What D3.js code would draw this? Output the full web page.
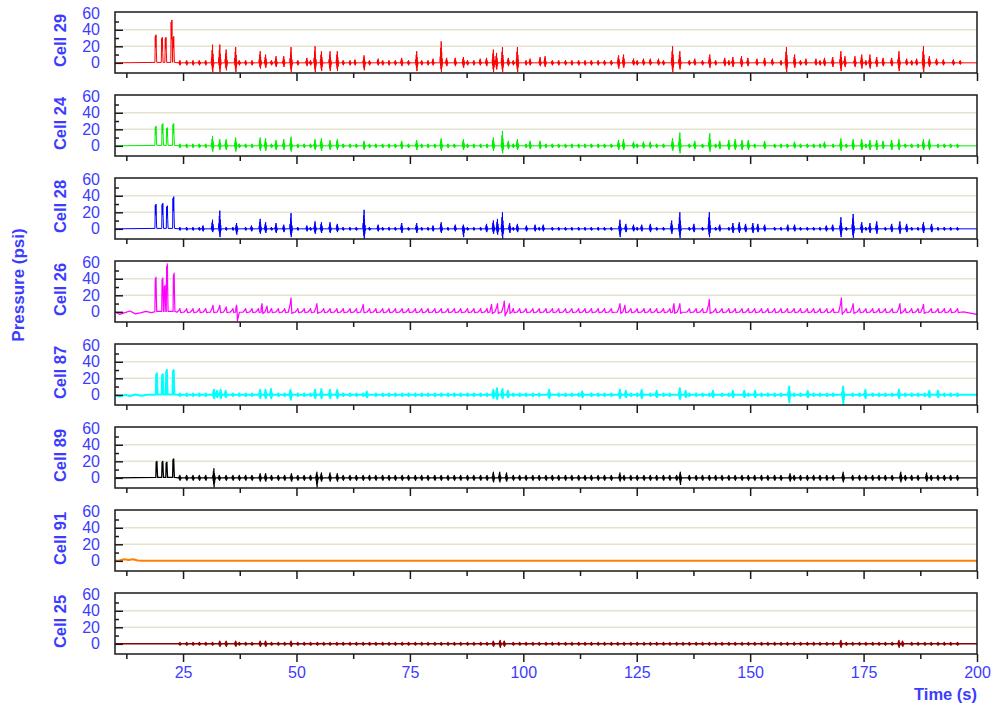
<!DOCTYPE html>
<html><head><meta charset="utf-8">
<script src="https://cdn.jsdelivr.net/npm/d3@7/dist/d3.min.js"></script>
<style>body{margin:0;background:#fff} text{font-family:Arial,"Liberation Sans",sans-serif}</style>
</head><body><svg id="chart" width="997" height="711"></svg>
<script>
// ---------- DATA ----------
const cellNames = ["Cell 29","Cell 24","Cell 28","Cell 26","Cell 87","Cell 89","Cell 91","Cell 25"];
const lineColors = ["#ff0000","#00ee00","#0000ff","#ff00ff","#00ffff","#000000","#ff8000","#8b0000"];
const xMajorTicks = [25,50,75,100,125,150,175,200];
const xMinorTicks = [12.5,37.5,62.5,87.5,112.5,137.5,162.5,187.5];
const yLabelTicks = [0,20,40,60];
const yMajorTicks = [0,20,40];
const yMinorTicks = [10,30,50];
const gridValues = [20,40];

// engine cycle instants (s) where small pressure blips appear
const cycleTimes = [24.3,25.8,27.2,28.6,30.0,31.5,33.0,34.5,36.0,37.4,38.8,40.2,41.6,43.1,44.5,46.0,47.4,48.8,50.3,51.7,
 53.1,54.6,56.0,57.4,58.9,60.3,61.8,63.2,64.7,66.1,67.5,69.0,70.4,71.8,73.3,74.7,76.2,77.6,79.0,80.5,81.9,83.4,84.8,86.2,
 87.7,89.1,90.6,92.0,93.4,94.9,96.3,97.8,99.2,100.6,102.1,103.5,105.0,106.4,107.8,109.3,110.7,112.2,113.6,115.0,116.5,
 117.9,119.4,120.8,122.2,123.7,125.1,126.6,128.0,129.4,130.9,132.3,133.8,135.2,136.6,138.1,139.5,141.0,142.4,143.8,145.3,
 146.7,148.2,149.6,151.0,152.5,153.9,155.4,156.8,158.2,159.7,161.1,162.6,164.0,165.4,166.9,168.3,169.8,171.2,172.6,174.1,
 175.5,177.0,178.4,179.8,181.3,182.7,184.2,185.6,187.0,188.5,189.9,191.4,192.8,194.2,195.7];

// startup bursts [time, peak psi]
const burst29 = [[19.0,34],[20.4,31],[21.2,31],[22.5,52],[22.9,32]];
const burst24 = [[19.0,24],[20.5,27],[21.5,22],[22.9,27]];
const burst28 = [[19.0,30],[20.5,31],[21.5,28],[22.9,39]];
const burst26 = [[19.0,42],[20.5,41],[21.0,32],[21.5,58],[23.0,47]];
const burst87 = [[19.2,26],[20.5,25],[21.4,30],[22.9,30]];
const burst89 = [[19.2,20],[20.5,20],[21.4,19],[22.9,23]];
const burst91 = [];
const burst25 = [];

// notable spikes [time, up psi, down psi]
const spikes29 = [[31.5,22,11],[33.1,22,11],[34.5,16,9],[36.6,19,11],[42.0,14,7],[43.2,10,6],[45.5,8,5],[47.2,8,5],[48.8,19,11],
 [52.3,6,4],[54.1,20,11],[55.5,14,10],[57.4,14,10],[59.0,14,10],[62.9,4,3],[64.9,9,9],[68.0,5,3],[73.2,6,4],[76.5,14,10],
 [80.1,5,3],[81.9,26,11],[83.1,6,4],[85.0,6,4],[86.8,7,6],[90.5,5,3],[91.9,6,4],[93.4,16,11],[94.1,12,8],[95.4,19,11],
 [96.7,6,4],[98.7,19,11],[101.5,5,3],[103.7,7,4],[104.8,8,5],[121.0,9,7],[122.1,10,6],[124.3,5,3],[126.5,5,3],[128.0,5,3],
 [129.8,5,3],[132.9,20,11],[134.5,14,8],[137.8,5,3],[141.1,10,6],[144.4,6,4],[146.2,7,5],[148.1,8,5],[149.5,6,4],[151.5,5,3],
 [153.2,6,4],[154.9,5,3],[158.0,19,11],[159.8,10,6],[162.3,5,3],[164.5,5,3],[166.4,6,4],[168.2,7,5],[170.0,14,10],[170.9,8,5],
 [173.1,8,5],[174.6,10,7],[176.4,10,7],[177.9,7,5],[179.3,6,4],[181.2,6,4],[182.8,14,10],[184.5,5,3],[186.7,5,3],[188.2,20,11],
 [189.5,8,5],[191.1,5,3],[192.6,4,3],[194.8,4,3],[196.3,3,2]];
const spikes24 = [[31.5,12,7],[33.1,8,5],[34.5,8,5],[36.6,10,7],[42.0,10,6],[43.2,9,6],[45.5,7,5],[47.2,8,5],[48.8,11,7],
 [54.1,8,5],[55.5,9,6],[57.4,7,5],[59.0,8,5],[64.9,6,5],[73.2,6,4],[76.5,7,5],[81.9,9,6],[86.8,8,5],[93.4,10,6],[95.4,18,9],
 [96.7,6,4],[98.7,8,5],[101.5,6,4],[103.7,6,4],[121.0,7,5],[122.1,8,5],[124.3,5,3],[126.5,5,3],[128.0,5,3],[132.9,9,6],
 [134.5,16,9],[137.8,6,4],[141.1,15,7],[143.3,6,4],[145.3,7,5],[146.7,8,5],[148.2,7,5],[149.6,7,5],[153.2,6,4],[159.8,5,3],
 [166.4,5,3],[170.0,9,6],[172.7,8,5],[174.6,8,5],[176.4,7,5],[177.9,7,5],[179.3,6,4],[181.2,7,5],[182.8,8,5],[188.2,8,5],[189.5,8,5]];
const spikes28 = [[29.4,4,3],[31.5,11,4],[33.1,22,10],[36.8,7,7],[40.1,4,3],[42.0,12,6],[43.2,8,5],[45.5,7,5],[47.2,5,4],
 [48.8,19,10],[52.3,4,3],[54.1,9,6],[55.5,8,5],[57.4,8,5],[59.0,6,4],[64.9,23,12],[68.0,5,3],[73.2,7,5],[76.5,7,5],[80.1,4,3],
 [81.9,8,5],[85.0,5,3],[86.8,5,10],[91.9,6,4],[93.4,10,6],[94.3,12,7],[95.4,20,12],[97.0,7,5],[98.7,6,4],[100.7,4,3],[102.6,5,3],
 [104.4,5,3],[121.3,11,10],[122.6,6,4],[124.3,5,3],[126.1,5,3],[128.0,6,4],[132.7,10,6],[134.5,20,11],[137.6,6,4],[141.0,20,10],
 [143.3,5,3],[146.2,7,5],[147.6,8,5],[149.0,6,4],[150.6,7,5],[151.7,6,4],[153.2,5,3],[158.3,5,3],[159.8,5,3],[166.8,4,3],
 [168.2,5,3],[170.0,14,10],[172.7,18,11],[174.6,8,5],[176.4,7,5],[177.9,9,6],[181.2,6,4],[183.0,9,6],[184.5,6,4],[188.2,8,5],[190.0,6,4]];
const spikes26 = [[31.6,8,1],[33.1,8,1],[34.5,6,1],[36.8,8,11],[42.4,10,2],[43.5,7,1],[48.8,17,2],[54.5,10,2],[64.7,9,1],
 [93.0,9,2],[94.3,10,2],[95.8,13,5],[96.9,10,2],[121.3,10,2],[122.4,8,1],[133.2,10,2],[134.5,10,2],[141.0,15,2],[170.1,17,3],
 [172.7,10,2],[183.0,10,2],[188.2,9,2]];
const spikes87 = [[31.8,6,4],[32.5,5,3],[33.3,6,4],[34.4,5,3],[42.0,6,4],[43.2,6,4],[44.4,7,4],[48.7,6,6],[54.1,6,4],[55.5,7,4],
 [57.4,6,4],[59.0,6,4],[65.5,4,3],[93.4,6,4],[94.2,8,5],[95.4,7,4],[96.6,5,3],[105.7,6,4],[113.0,4,3],[121.3,6,4],[122.6,5,3],
 [126.1,6,4],[129.4,5,3],[134.5,8,5],[135.8,5,3],[141.8,5,3],[146.2,5,3],[148.7,5,3],[151.1,5,3],[158.6,10,9],[162.7,5,3],
 [170.5,10,11],[175.4,6,4],[182.8,6,4],[189.5,5,3],[191.4,5,3]];
const spikes89 = [[31.8,11,11],[42.0,5,4],[43.2,5,4],[48.9,5,4],[54.5,7,11],[55.5,6,4],[57.4,6,4],[59.0,5,4],[93.4,7,5],
 [94.8,7,5],[96.3,6,4],[121.3,6,4],[134.6,7,8],[158.8,5,4],[170.5,7,5],[183.2,7,5],[188.9,6,4]];
const spikes91 = [];
const spikes25 = [[33.1,3,3],[34.5,3,3],[36.6,3,3],[42.0,3,3],[43.2,3,3],[48.8,3,3],[93.4,3,3],[94.9,4,4],[95.8,3,3],
 [170.0,4,4],[182.8,4,4],[183.6,3,3]];

// pre-start wobble [time, psi]
const wobble29 = [], wobble24 = [], wobble28 = [];
const wobble26 = [[10,0],[11,-3],[12.2,-1],[13.3,1],[14.5,-2.5],[15.8,-1],[16.8,0.5],[18,-1],[18.7,0]];
const wobble87 = [[10,0],[11,-2],[12.2,0],[13.3,-1.5],[14.5,0.5],[15.8,-1],[17,0],[18.7,0]];
const wobble89 = [];
const wobble91 = [[10,0],[11,0.5],[12,2],[13,1],[14,2],[15,0.5],[16,0]];
const wobble25 = [];

// default small blip size per cell [up, down]
const blip29 = [3,3], blip24 = [2.5,2.5], blip28 = [2,2], blip26 = [4,1], blip87 = [1.5,1.5], blip89 = [3,3], blip91 = [0,0], blip25 = [1.5,1.5];

// ---------- BUILD SERIES ----------
const cells = [
 {burst:burst29, spikes:spikes29, wobble:wobble29, blip:blip29, shape:"spike", w:1},
 {burst:burst24, spikes:spikes24, wobble:wobble24, blip:blip24, shape:"spike", w:1},
 {burst:burst28, spikes:spikes28, wobble:wobble28, blip:blip28, shape:"spike", w:1},
 {burst:burst26, spikes:spikes26, wobble:wobble26, blip:blip26, shape:"bump", w:1.2},
 {burst:burst87, spikes:spikes87, wobble:wobble87, blip:blip87, shape:"spike", w:2},
 {burst:burst89, spikes:spikes89, wobble:wobble89, blip:blip89, shape:"spike", w:1.3},
 {burst:burst91, spikes:spikes91, wobble:wobble91, blip:blip91, shape:"spike", w:2},
 {burst:burst25, spikes:spikes25, wobble:wobble25, blip:blip25, shape:"spike", w:1.5}
];

function spikePts(t, up, dn) {
  return [[t-0.3,0],[t-0.2,up*0.3],[t-0.15,-dn*0.3],[t-0.1,up*0.7],[t-0.05,-dn*0.7],[t,up],[t+0.05,-dn],
          [t+0.1,up*0.5],[t+0.15,-dn*0.5],[t+0.2,up*0.2],[t+0.25,-dn*0.2],[t+0.32,0]];
}
function bumpPts(t, up, dn) {
  return [[t-0.6,-0.5],[t-0.15,up*0.6],[t,up],[t+0.08,up*0.5],[t+0.18,-dn],[t+0.6,-0.5]];
}
function burstPts(t, a) {
  return [[t-0.2,0.5],[t-0.12,a*0.95],[t-0.04,a*0.55],[t+0.04,a],[t+0.12,a*0.4],[t+0.2,0.5]];
}
function buildSeries(c) {
  let pts = [];
  if (c.wobble.length) pts = pts.concat(c.wobble); else pts.push([10,0]);
  c.burst.forEach(b => pts = pts.concat(burstPts(b[0], b[1])));
  const shapeFn = c.shape === "bump" ? bumpPts : spikePts;
  c.spikes.forEach(s => pts = pts.concat(shapeFn(s[0], s[1], s[2])));
  if (c.blip[0] > 0) {
    cycleTimes.forEach(t => {
      if (!c.spikes.some(s => Math.abs(s[0]-t) < 0.75)) pts = pts.concat(shapeFn(t, c.blip[0], c.blip[1]));
    });
  }
  if (c.shape === "bump") { pts.push([197,0]); pts.push([200,-3]); } else pts.push([200,0]);
  pts.sort((a,b) => a[0]-b[0]);
  return pts;
}

// ---------- DRAW ----------
const svg = d3.select("#chart");
const textColor = "#3c3cff";
const left = 115, right = 977, firstTop = 12, step = 83, ph = 61;
const x = d3.scaleLinear().domain([10,200]).range([left,right]);
const y = d3.scaleLinear().domain([-12.3,61.5]).range([ph,0]);
const line = d3.line().x(d => x(d[0])).y(d => y(d[1]));

svg.append("rect").attr("width",997).attr("height",711).attr("fill","#fff");

cells.forEach((c, i) => {
  const top = firstTop + i*step;
  const g = svg.append("g").attr("transform", `translate(0,${top})`);
  const cid = "clip"+i;
  g.append("clipPath").attr("id",cid).append("rect").attr("x",left).attr("y",0).attr("width",right-left).attr("height",ph);

  g.selectAll(".grid").data(gridValues).join("line")
    .attr("x1",left).attr("x2",right).attr("y1",d=>y(d)).attr("y2",d=>y(d))
    .attr("stroke","#e3e3cf").attr("stroke-width",1.5);

  g.append("path").datum(buildSeries(c)).attr("d",line).attr("fill","none")
    .attr("stroke",lineColors[i]).attr("stroke-width",c.w).attr("stroke-linejoin","round")
    .attr("clip-path",`url(#${cid})`);

  g.append("rect").attr("x",left).attr("y",0).attr("width",right-left).attr("height",ph)
    .attr("fill","none").attr("stroke","#1a1a1a").attr("stroke-width",1.5);

  // inner y ticks
  const yMaj = g.append("g").attr("transform",`translate(${left},0)`)
    .call(d3.axisRight(y).tickValues(yMajorTicks).tickSize(8).tickFormat(""));
  const yMin = g.append("g").attr("transform",`translate(${left},0)`)
    .call(d3.axisRight(y).tickValues(yMinorTicks).tickSize(4).tickFormat(""));
  [yMaj,yMin].forEach(a => { a.select(".domain").remove(); a.selectAll("line").attr("stroke","#1a1a1a").attr("stroke-width",1.5); });

  // y labels
  const yl = g.append("g").attr("transform",`translate(${left},0)`)
    .call(d3.axisLeft(y).tickValues(yLabelTicks).tickSize(0).tickPadding(15).tickFormat(d3.format("d")));
  yl.select(".domain").remove();
  yl.selectAll("text").attr("fill",textColor).style("font-size","16px").style("font-family","Arial, 'Liberation Sans', sans-serif");

  // x ticks below each panel
  const isLast = i === cells.length-1;
  const xMaj = g.append("g").attr("transform",`translate(0,${ph})`)
    .call(d3.axisBottom(x).tickValues(xMajorTicks).tickSize(8).tickPadding(5).tickFormat(isLast ? d3.format("d") : ""));
  const xMin = g.append("g").attr("transform",`translate(0,${ph})`)
    .call(d3.axisBottom(x).tickValues(xMinorTicks).tickSize(5).tickFormat(""));
  [xMaj,xMin].forEach(a => { a.select(".domain").remove(); a.selectAll("line").attr("stroke","#1a1a1a").attr("stroke-width",1.5); });
  xMaj.selectAll("text").attr("fill",textColor).style("font-size","16px").style("font-family","Arial, 'Liberation Sans', sans-serif");

  // cell label
  g.append("text").attr("transform",`translate(66,${ph/2-2}) rotate(-90)`)
    .attr("text-anchor","middle").attr("fill",textColor).attr("font-weight","bold").attr("font-size","16.5px")
    .text(cellNames[i]);
});

svg.append("text").attr("transform","translate(24,285) rotate(-90)").attr("text-anchor","middle")
  .attr("fill",textColor).attr("font-weight","bold").attr("font-size","17px").text("Pressure (psi)");
svg.append("text").attr("x",977).attr("y",700).attr("text-anchor","end")
  .attr("fill",textColor).attr("font-weight","bold").attr("font-size","16.5px").text("Time (s)");
</script>
</body></html>
